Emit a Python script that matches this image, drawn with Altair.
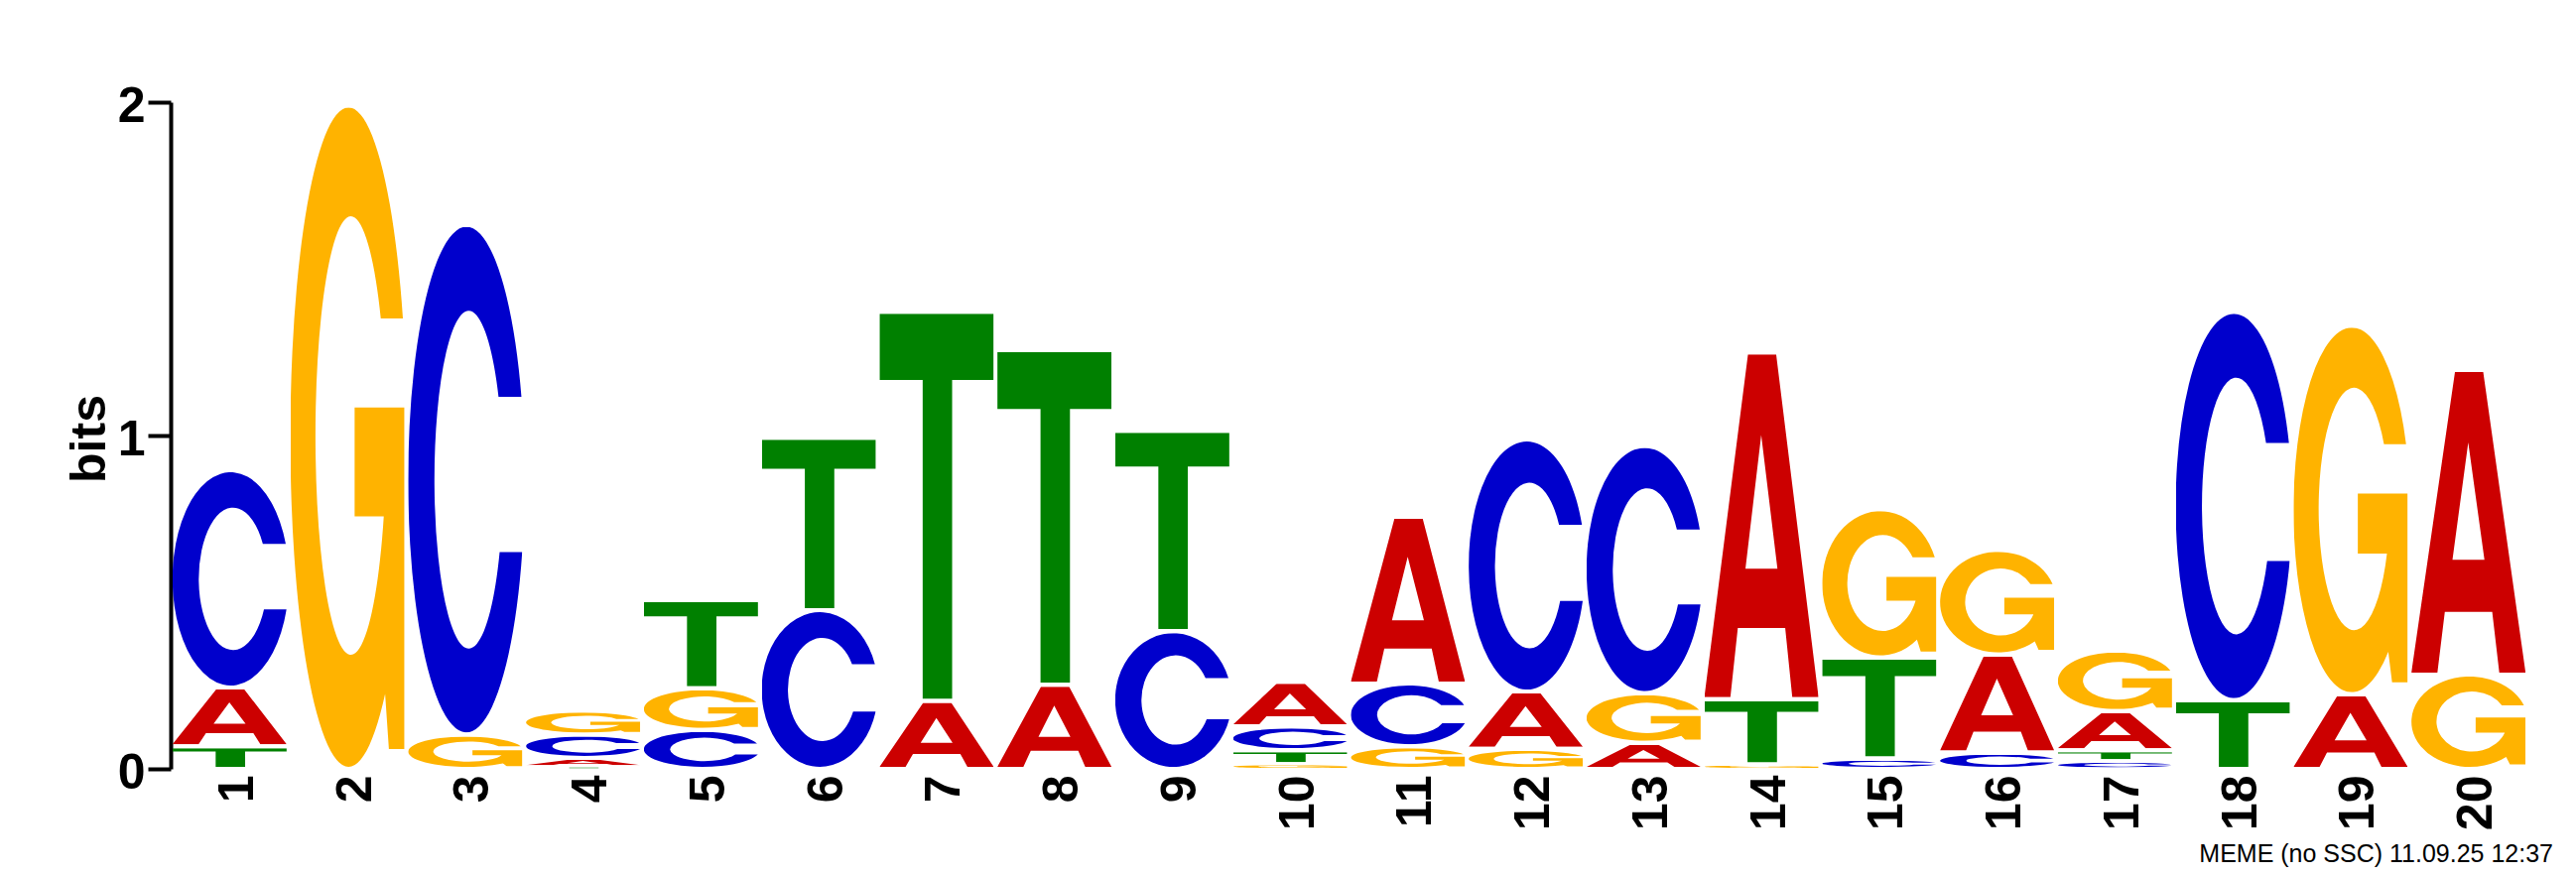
import base64
import altair as alt
import pandas as pd

# ---------------- data ----------------
positions = list(range(1, 21))
letters = ["A", "C", "G", "T"]
bits_A = [0.176, 0, 0, 0.027, 0, 0, 0.204, 0.252, 0, 0.134,
          0.501, 0.172, 0.078, 1.040, 0, 0.294, 0.117, 0, 0.224, 0.914]
bits_C = [0.652, 0, 1.529, 0.070, 0.117, 0.476, 0, 0, 0.413, 0.071,
          0.188, 0.756, 0.742, 0, 0.031, 0.049, 0.023, 1.165, 0, 0]
bits_G = [0, 1.990, 0.103, 0.072, 0.125, 0, 0, 0, 0, 0.014,
          0.068, 0.060, 0.149, 0.013, 0.445, 0.314, 0.182, 0, 1.106, 0.283]
bits_T = [0.068, 0, 0, 0.006, 0.265, 0.517, 1.167, 1.004, 0.601, 0.042,
          0, 0, 0, 0.196, 0.303, 0, 0.033, 0.206, 0, 0]
y_max = 2
y_tick_count = 2
y_title = "bits"
footer_text = "MEME (no SSC) 11.09.25 12:37"

# ---------------- styles ----------------
letter_colors = {"A": "#CC0000", "C": "#0000CC", "G": "#FFB300", "T": "#008000"}
GLYPHS = {
    "A": "M0 100 L38.2 0 L62.9 0 L100 100 L77 100 L70.8 79.8 L29.3 79.8 L22.8 100 Z "
         "M49.8 23.5 L64 62.5 L36 62.5 Z",
    "C": "M99.18 33.6 A51 50 0 1 0 99.87 64.3 L80.11 64.3 A30 33.4 0 1 1 79.13 33.6 Z",
    "G": "M98.58 32 A51 50 0 1 0 83 88.93 L86.3 97.3 L100 97.3 L100 45.5 L56.3 45.5 "
         "L56.3 62 L81.82 62 A31 33.25 0 1 1 79.21 32 Z",
    "T": "M0 0 L100 0 L100 17.2 L63.6 17.2 L63.6 100 L37.8 100 L37.8 17.2 L0 17.2 Z",
}


def glyph_url(letter):
    svg = ('<svg xmlns="http://www.w3.org/2000/svg" width="100" height="100" '
           'viewBox="0 0 100 100" preserveAspectRatio="none">'
           f'<path d="{GLYPHS[letter]}" fill="{letter_colors[letter]}" fill-rule="evenodd"/></svg>')
    return "data:image/svg+xml;base64," + base64.b64encode(svg.encode()).decode()


series = dict(zip(letters, [bits_A, bits_C, bits_G, bits_T]))
rows = []
for i, p in enumerate(positions):
    for L in letters:
        v = series[L][i]
        if v > 0:
            rows.append({"pos": p, "letter": L, "bits": v, "url": glyph_url(L)})
df = pd.DataFrame(rows)

FONT = "Liberation Sans"
PLOT_W, PLOT_H = 2375, 672

logo = (
    alt.Chart(df)
    .transform_window(
        top="sum(bits)",
        groupby=["pos"],
        sort=[alt.SortField("bits", order="ascending")],
        frame=[None, 0],
    )
    .transform_calculate(
        inset="min(0.006, datum.bits * 0.2)",
        y_lo="datum.top - datum.bits + datum.inset",
        y_hi="datum.top - datum.inset",
        x_lo="datum.pos - 0.4845",
        x_hi="datum.pos + 0.4845",
    )
    .mark_image(aspect=False)
    .encode(
        x=alt.X(
            "x_lo:Q",
            scale=alt.Scale(domain=[0.5, 20.5], nice=False, zero=False),
            axis=alt.Axis(
                values=positions, tickCount=40, format="d", domain=False, ticks=False,
                tickSize=0, grid=False, labelAngle=270, labelFont=FONT,
                labelFontWeight="bold", labelFontSize=50, labelColor="black",
                labelPadding=6, labelOffset=8, labelOverlap=False, labelFlush=False,
                labelBound=False, title=None,
            ),
        ),
        x2="x_hi:Q",
        y=alt.Y(
            "y_lo:Q",
            scale=alt.Scale(domain=[0, y_max], nice=False, zero=True),
            axis=alt.Axis(
                tickCount=y_tick_count, tickMinStep=1, format="d", grid=False, domain=True,
                domainColor="black", domainWidth=4, ticks=True, tickSize=23,
                tickWidth=4, tickColor="black",
                labelFont=FONT, labelFontWeight="bold", labelFontSize=50,
                labelColor="black", labelPadding=3, labelOffset=4, labelFlush=False,
                labelOverlap=False,
                title=y_title, titleFont=FONT, titleFontWeight="bold", titleFontSize=50,
                titleColor="black", titleAngle=270, titleX=-67, titleY=PLOT_H / 2 + 3,
                titleAlign="center", titleBaseline="alphabetic",
            ),
        ),
        y2="y_hi:Q",
        url="url:N",
    )
)

footer = (
    alt.Chart(pd.DataFrame({"t": [footer_text]}))
    .mark_text(align="right", baseline="alphabetic", font=FONT, fontSize=25, color="black")
    .encode(x=alt.value(2401), y=alt.value(766), text="t:N")
)

chart = (
    alt.layer(logo, footer)
    .properties(
        width=PLOT_W,
        height=PLOT_H,
        padding={"left": 164, "top": 95, "right": 41, "bottom": 100},
        autosize=alt.AutoSizeParams(type="none"),
        background="white",
    )
    .configure_view(stroke=None)
)

chart.save("out.html", embed_options={"renderer": "svg", "actions": False})
